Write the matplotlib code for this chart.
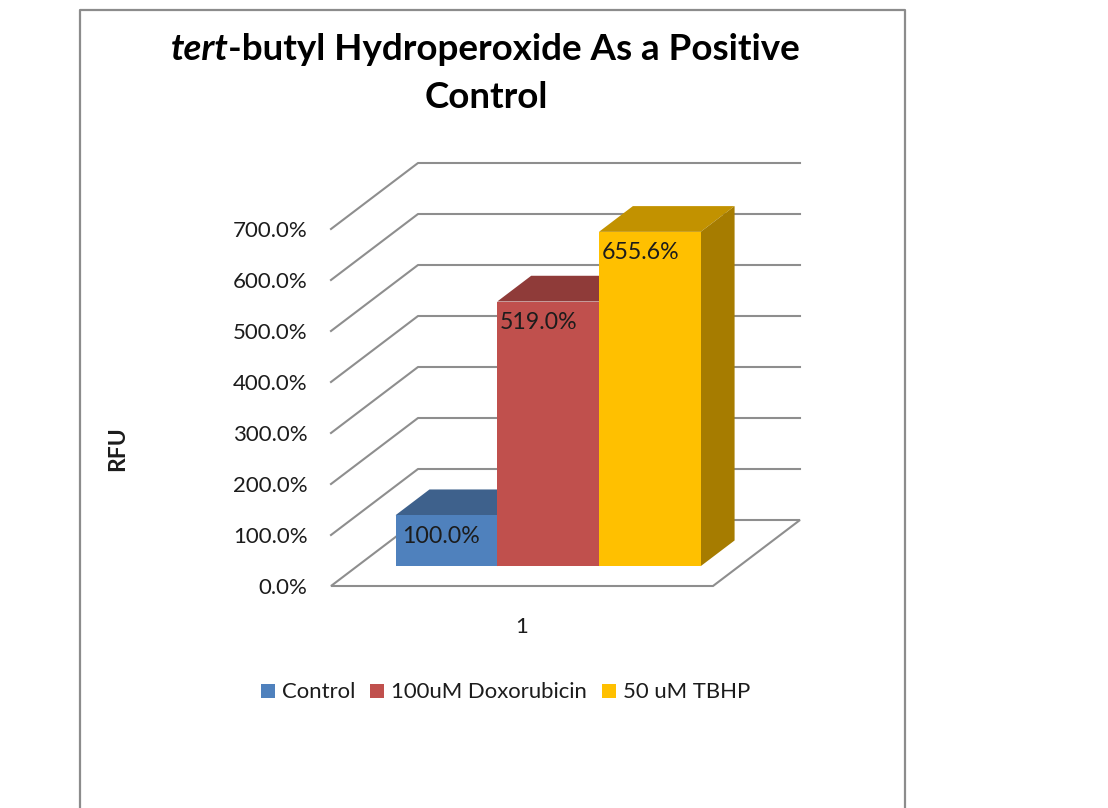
import matplotlib
matplotlib.use("Agg")
import matplotlib.pyplot as plt
from matplotlib.patches import Polygon
from matplotlib.lines import Line2D
from matplotlib.ticker import PercentFormatter

plt.rcParams['font.family'] = ['Lato', 'DejaVu Sans']

# ---- data ----
series_names = ["Control", "100uM Doxorubicin", "50 uM TBHP"]
series_values = [100.0, 519.0, 655.6]
value_labels = ["100.0%", "519.0%", "655.6%"]
y_ticks = [0, 100, 200, 300, 400, 500, 600, 700]
x_tick_labels = ["1"]
front_colors = ["#4F81BD", "#C0504D", "#FFC000"]
top_colors = ["#3E618C", "#8F3B39", "#C29200"]
side_colors = ["#35547A", "#7C3331", "#A67C00"]

W, H = 1108, 808
GRID = "#8E8E8E"
TXT = "#1c1c1c"

fig = plt.figure(figsize=(W / 100, H / 100), dpi=100, facecolor="white")

# chart frame
fig.add_artist(Line2D([79.5 / W, 79.5 / W, 905 / W, 905 / W], [0, 1 - 9.5 / H, 1 - 9.5 / H, 0],
                      color="#8C8C8C", lw=1.6, transform=fig.transFigure))

# axes = front plane of the 3D box
L, R, T, B = 331, 713, 229, 586
ax = fig.add_axes([L / W, 1 - B / H, (R - L) / W, (B - T) / H])
ax.patch.set_alpha(0)
ax.set_xlim(-1.878, 1.878)
ax.set_ylim(0, 700)
for s in ax.spines.values():
    s.set_visible(False)

# depth vector of the box in data units
DX = 87 / ((R - L) / (2 * 1.878))
DY = 66 / ((B - T) / 700)
BAR_D0, BAR_D1 = 0.30, 0.69


def proj(x, v, d):
    return (x + d * DX, v + d * DY)


# walls
xl, xr = ax.get_xlim()
for t in y_ticks[1:]:
    xs, ys = zip(proj(xl, t, 0), proj(xl, t, 1), proj(xr, t, 1))
    ax.plot(xs, ys, color=GRID, lw=1.5, clip_on=False, zorder=1)
floor = [proj(xl, 0, 0), proj(xl, 0, 1), proj(xr, 0, 1), proj(xr, 0, 0)]
ax.add_patch(Polygon(floor, closed=True, fc="white", ec=GRID, lw=1.5, clip_on=False, zorder=1))

# bars
positions = [-1.0, 0.0, 1.0]
bar_w = 1.0
span = BAR_D1 - BAR_D0
base = BAR_D0 * DY
for i, (p, v) in enumerate(zip(positions, series_values)):
    x0 = p - bar_w / 2 + BAR_D0 * DX
    x1 = x0 + bar_w
    z = 3 + i
    ax.bar(x0, v, width=bar_w, bottom=base, align="edge", color=front_colors[i],
           clip_on=False, zorder=z + 0.2, label=series_names[i], linewidth=0)
    top = [(x0, base + v), (x1, base + v),
           (x1 + span * DX, base + v + span * DY), (x0 + span * DX, base + v + span * DY)]
    ax.add_patch(Polygon(top, closed=True, fc=top_colors[i], ec="none", clip_on=False, zorder=z))
    side = [(x1, base), (x1 + span * DX, base + span * DY),
            (x1 + span * DX, base + v + span * DY), (x1, base + v)]
    ax.add_patch(Polygon(side, closed=True, fc=side_colors[i], ec="none", clip_on=False, zorder=z))
    ax.annotate(value_labels[i], xy=(x0, base + v), xytext=(7 if i == 0 else 3, -21),
                textcoords="offset pixels", fontsize=16.7, color=TXT, ha="left", va="center",
                zorder=10, annotation_clip=False)

# axis ticks
ax.set_yticks(y_ticks)
ax.yaxis.set_major_formatter(PercentFormatter(decimals=1))
ax.set_xticks([0])
ax.set_xticklabels(x_tick_labels)
ax.tick_params(axis="both", length=0, labelsize=16, labelcolor=TXT)
ax.tick_params(axis="y", pad=17)
ax.tick_params(axis="x", pad=22)

# axis title
fig.text(118 / W, 1 - 449 / H, "RFU", rotation=90, fontsize=16.5, fontweight="bold",
         color=TXT, ha="center", va="center")

# legend
handles, labels = ax.get_legend_handles_labels()
fig.legend(handles, labels, loc="center", bbox_to_anchor=(505.5 / W, 1 - 692.5 / H),
           ncol=3, frameon=False, fontsize=15.9, handlelength=0.65, handleheight=0.6,
           handletextpad=0.31, columnspacing=0.67, labelcolor=TXT, borderpad=0)

# title with italic prefix
TITLE_SIZE = 26.5
fig.canvas.draw()
r = fig.canvas.get_renderer()
t1 = fig.text(171 / W, 1 - 50 / H, "tert", fontsize=TITLE_SIZE, fontweight="bold", style="italic",
              color="black", ha="left", va="center")
bb = t1.get_window_extent(r)
fig.text((bb.x1 - 1) / W, 1 - 50 / H, "-butyl Hydroperoxide As a Positive", fontsize=TITLE_SIZE,
         fontweight="bold", color="black", ha="left", va="center")
fig.text(486 / W, 1 - 97 / H, "Control", fontsize=TITLE_SIZE, fontweight="bold", color="black",
         ha="center", va="center")

fig.savefig("out.png", dpi=100)
